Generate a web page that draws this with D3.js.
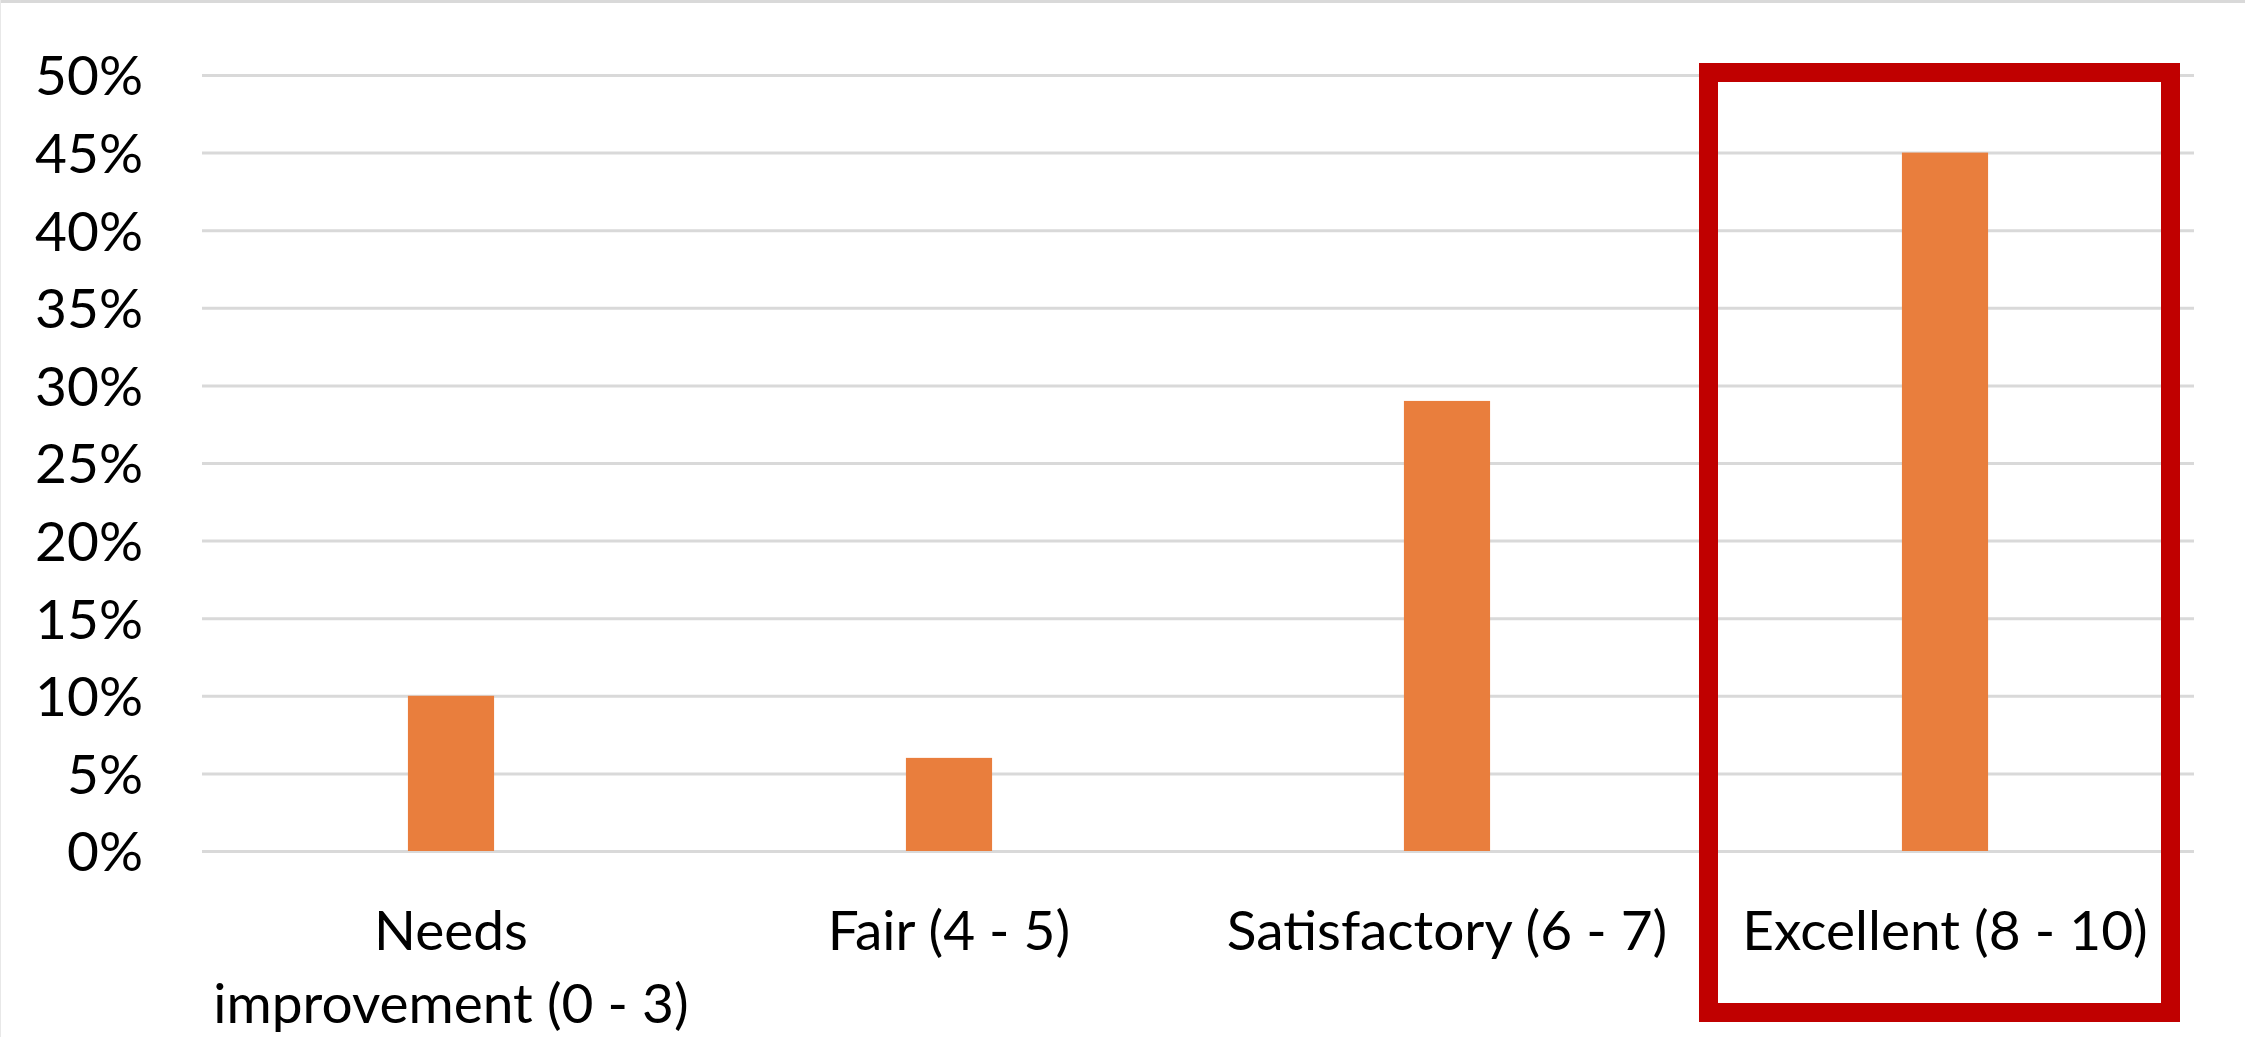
<!DOCTYPE html>
<html>
<head>
<meta charset="utf-8">
<script src="https://cdn.jsdelivr.net/npm/d3@7"></script>
<style>
  html, body { margin: 0; padding: 0; background: #ffffff; }
  svg { display: block; }
  text { font-family: Lato, "Open Sans", "Noto Sans", sans-serif; fill: #000000; }
</style>
</head>
<body>
<svg id="chart" width="2245" height="1037"></svg>
<script>
// Score bands and the share of respondents in each
const categories = ["Needs improvement (0 - 3)", "Fair (4 - 5)", "Satisfactory (6 - 7)", "Excellent (8 - 10)"];
const shares = [0.10, 0.06, 0.29, 0.45];
// Axis labels as they are broken over lines under each bar
const tickLabelLines = [["Needs", "improvement (0 - 3)"], ["Fair (4 - 5)"], ["Satisfactory (6 - 7)"], ["Excellent (8 - 10)"]];
const yTicks = [0, 0.05, 0.10, 0.15, 0.20, 0.25, 0.30, 0.35, 0.40, 0.45, 0.50];
const highlighted = "Excellent (8 - 10)";

const W = 2245, H = 1037;
const fontSize = 55;
const plot = { left: 202, right: 2194, top: 75, bottom: 851 };

const svg = d3.select("#chart");

// frame edges
svg.append("rect").attr("x", 0).attr("y", 0).attr("width", W).attr("height", 3).attr("fill", "#d9d9d9");
svg.append("rect").attr("x", 0).attr("y", 0).attr("width", 1).attr("height", H).attr("fill", "#e8e8e8");

const x = d3.scaleBand().domain(categories).range([plot.left, plot.right]).paddingInner(0).paddingOuter(0);
const y = d3.scaleLinear().domain([0, 0.5]).range([plot.bottom, plot.top]);

// value axis with full-width gridlines
const yAxis = d3.axisLeft(y)
  .tickValues(yTicks)
  .tickSize(-(plot.right - plot.left))
  .tickPadding(59)
  .tickFormat(d3.format(".0%"));

const gy = svg.append("g").attr("transform", `translate(${plot.left},0)`).call(yAxis);
gy.select(".domain").remove();
gy.selectAll(".tick line").attr("stroke", "#d9d9d9").attr("stroke-width", 3);
gy.selectAll(".tick text")
  .attr("font-size", fontSize)
  .attr("dy", "0.36em")
  .attr("fill", "#000");

// bars
const barW = x.bandwidth() * 0.173;
svg.append("g").selectAll("rect")
  .data(categories)
  .join("rect")
  .attr("x", (d) => x(d) + x.bandwidth() / 2 - barW / 2)
  .attr("y", (d, i) => y(shares[i]))
  .attr("width", barW)
  .attr("height", (d, i) => y(0) - y(shares[i]))
  .attr("fill", "#E97E3D");

// category labels
const lineGap = 73;
const labels = svg.append("g").selectAll("text")
  .data(categories)
  .join("text")
  .attr("text-anchor", "middle")
  .attr("font-size", fontSize)
  .attr("x", (d) => x(d) + x.bandwidth() / 2)
  .attr("y", 950);
labels.each(function (d, i) {
  const t = d3.select(this);
  tickLabelLines[i].forEach((line, j) => {
    t.append("tspan")
      .attr("x", x(d) + x.bandwidth() / 2)
      .attr("dy", j === 0 ? 0 : lineGap)
      .text(line);
  });
});

// highlight frame around the top score band
const sw = 19;
const bx0 = x(highlighted) + 3, bx1 = x(highlighted) + x.bandwidth() - 14;
const by0 = y(0.5) - 12, by1 = H - 15;
svg.append("rect")
  .attr("x", bx0 + sw / 2)
  .attr("y", by0 + sw / 2)
  .attr("width", bx1 - bx0 - sw)
  .attr("height", by1 - by0 - sw)
  .attr("fill", "none")
  .attr("stroke", "#C00000")
  .attr("stroke-width", sw);
</script>
</body>
</html>
